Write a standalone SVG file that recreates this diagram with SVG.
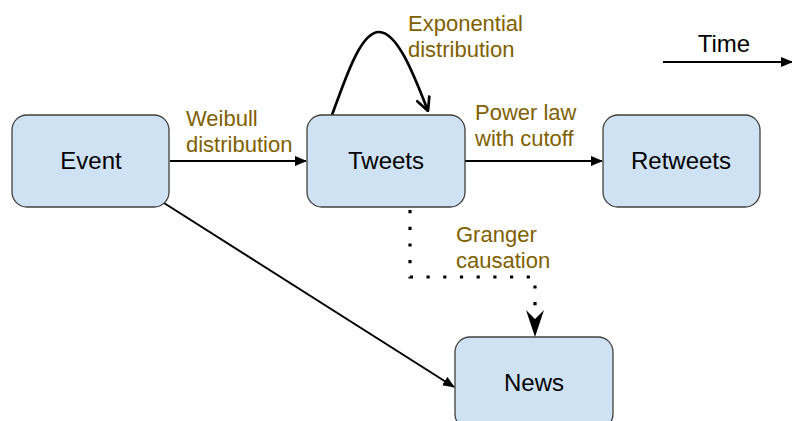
<svg xmlns="http://www.w3.org/2000/svg" width="792" height="421" viewBox="0 0 792 421">
  <style>
    .node rect { fill: #cfe2f3; stroke: #404040; stroke-width: 1.3; }
    .node text { font-family: "Liberation Sans", Arial, sans-serif; font-size: 24px; fill: #000; text-anchor: middle; }
    .lbl { font-family: "Liberation Sans", Arial, sans-serif; font-size: 22px; fill: #7f6000; }
    .edge { fill: none; stroke: #000; stroke-width: 2; }
    .loop { fill: none; stroke: #000; stroke-width: 2.7; }
    .dots { fill: none; stroke: #000; stroke-width: 3.2; stroke-dasharray: 3.2 13.5; }
  </style>
  <defs>
    <marker id="tri" viewBox="0 0 12 10" refX="11" refY="5" markerWidth="12" markerHeight="10" markerUnits="userSpaceOnUse" orient="auto">
      <path d="M0 0 L12 5 L0 10 Z" fill="#000"/>
    </marker>
    <marker id="vee" viewBox="0 0 16 16" refX="15" refY="8" markerWidth="16" markerHeight="16" markerUnits="userSpaceOnUse" orient="auto">
      <path d="M1 1 L15 8 L1 15" fill="none" stroke="#000" stroke-width="2.7"/>
    </marker>
  </defs>

  <!-- connectors -->
  <g id="connectors">
    <line class="edge" x1="170" y1="161" x2="306" y2="161" marker-end="url(#tri)"/>
    <line class="edge" x1="465" y1="161" x2="602" y2="161" marker-end="url(#tri)"/>
    <line class="edge" x1="164" y1="203" x2="454" y2="387" marker-end="url(#tri)"/>
    <path class="loop" d="M332 115 C 345 80, 360 32, 379 32 C 398 32, 415 78, 428 111" marker-end="url(#vee)"/>
    <path class="dots" d="M410 210 L410 277 L535 277 L535 312"/>
    <!-- notched arrowhead on the dotted connector -->
    <path d="M526 310 L535 337 L544 310 L535 319 Z" fill="#000"/>
    <line class="edge" x1="663" y1="62" x2="792" y2="62" marker-end="url(#tri)"/>
  </g>

  <!-- edge labels -->
  <g id="labels">
    <text class="lbl" x="186" y="126">Weibull</text>
    <text class="lbl" x="186" y="152">distribution</text>
    <text class="lbl" x="408" y="31">Exponential</text>
    <text class="lbl" x="408" y="57">distribution</text>
    <text class="lbl" x="475" y="120">Power law</text>
    <text class="lbl" x="475" y="146">with cutoff</text>
    <text class="lbl" x="456" y="242">Granger</text>
    <text class="lbl" x="456" y="268">causation</text>
    <text x="724" y="52" font-family="Liberation Sans, Arial, sans-serif" font-size="24" text-anchor="middle">Time</text>
  </g>

  <!-- nodes -->
  <g id="event" class="node">
    <rect x="12" y="115" width="157" height="92" rx="15"/>
    <text x="91" y="169">Event</text>
  </g>
  <g id="tweets" class="node">
    <rect x="307" y="115" width="158" height="92" rx="15"/>
    <text x="386" y="169">Tweets</text>
  </g>
  <g id="retweets" class="node">
    <rect x="603" y="115" width="157" height="92" rx="15"/>
    <text x="681" y="169">Retweets</text>
  </g>
  <g id="news" class="node">
    <rect x="455" y="337" width="158" height="92" rx="15"/>
    <text x="534" y="391">News</text>
  </g>
</svg>
